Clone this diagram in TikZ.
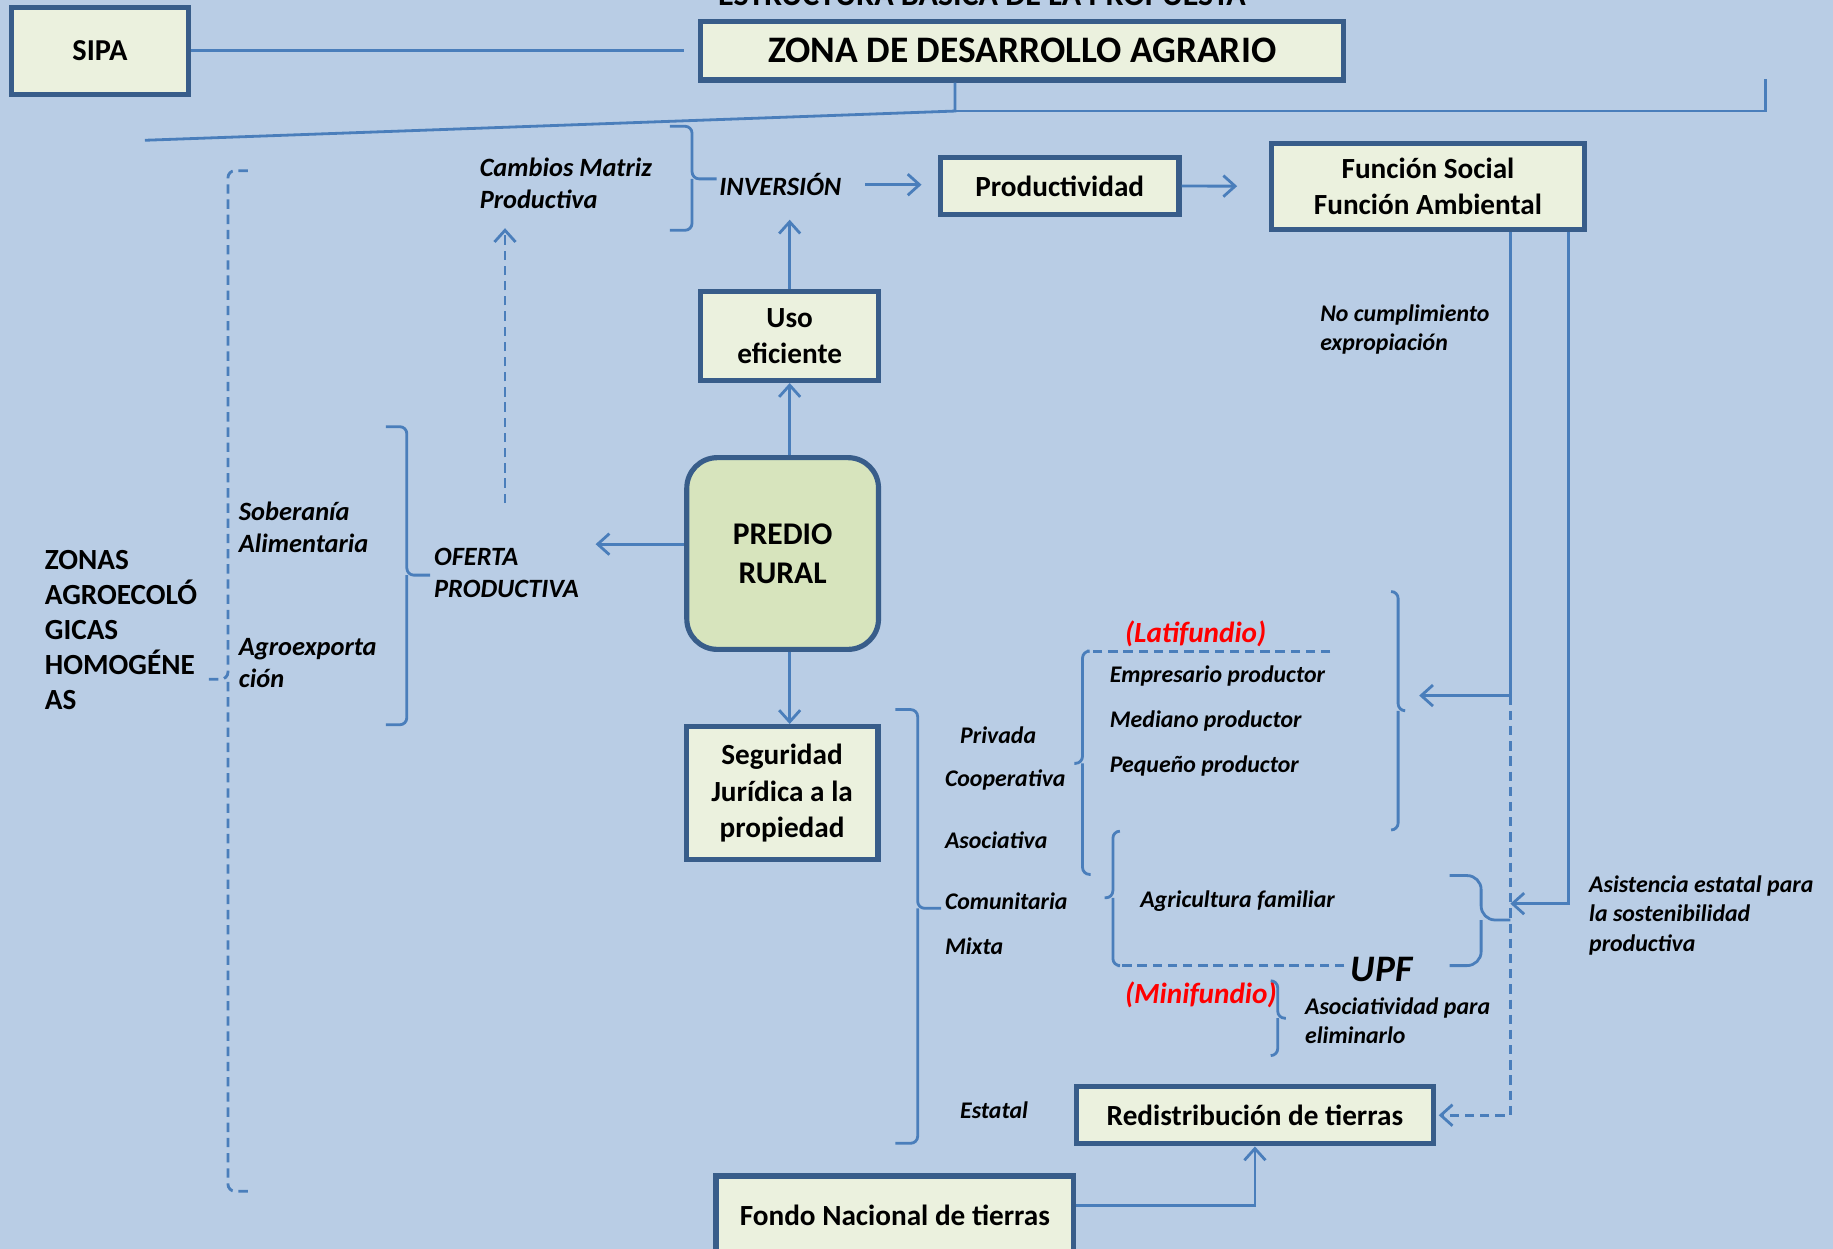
\documentclass[tikz,border=0pt]{standalone}
\usepackage{fontspec}
\setmainfont{Carlito}
\usetikzlibrary{arrows.meta}
\definecolor{fondoaz}{HTML}{B9CDE5}
\definecolor{crema}{HTML}{EBF1DE}
\definecolor{verde}{HTML}{D7E4BD}
\definecolor{bordeaz}{HTML}{385D8A}
\definecolor{lineaaz}{HTML}{4A7EBB}
\tikzset{
caja/.style={draw=bordeaz,line width=2.2pt,fill=crema,align=center,inner sep=1pt,font=\bfseries\fontsize{12.5}{15.5}\selectfont},
txt/.style={anchor=west,inner sep=0pt,align=left,font=\bfseries\itshape\fontsize{10.2}{12.5}\selectfont},
txtg/.style={txt,font=\bfseries\itshape\fontsize{11.3}{13.8}\selectfont},
rojo/.style={txt,text=red,font=\bfseries\itshape\fontsize{12.5}{15}\selectfont},
lin/.style={draw=lineaaz,line width=1.2pt},
lind/.style={lin,dash pattern=on 4pt off 2.5pt},
>={Straight Barb[length=5pt,width=9pt]}
}
\begin{document}
\begin{tikzpicture}[x=0.5pt,y=-0.5pt]
\pgfmathsetmacro{\xa}{1292}
\pgfmathsetmacro{\xb}{1342}
\fill[fondoaz](0,0)rectangle(1568,1068);
\useasboundingbox(0,0)rectangle(1568,1068);
\node[anchor=base,font=\bfseries\fontsize{13.7}{16}\selectfont](titulo)at(840,5){ESTRUCTURA BÁSICA DE LA PROPUESTA};
\node[caja,minimum width=76pt,minimum height=37pt,font=\bfseries\fontsize{13}{15.5}\selectfont](sipa)at(85.5,43.5){SIPA};
\node[caja,minimum width=275pt,minimum height=25pt,font=\bfseries\fontsize{16}{19}\selectfont](zona)at(874.5,43.5){ZONA DE DESARROLLO AGRARIO};
\node[caja,minimum width=102pt,minimum height=24.5pt](prod)at(906.5,159){Productividad};
\node[caja,minimum width=134pt,minimum height=37pt](func)at(1221.5,159.5){Función Social\\Función Ambiental};
\node[caja,minimum width=76pt,minimum height=38pt](uso)at(675.5,287.5){Uso\\eficiente};
\node[caja,fill=verde,rounded corners=13pt,minimum width=82pt,minimum height=82pt,font=\bfseries\fontsize{13.5}{16.5}\selectfont](predio)at(669.5,473.5){PREDIO\\RURAL};
\node[caja,minimum width=82pt,minimum height=57pt](seg)at(669,678.5){Seguridad\\Jurídica a la\\propiedad};
\node[caja,minimum width=153pt,minimum height=24.5pt](redis)at(1073.5,954){Redistribución de tierras};
\node[caja,minimum width=153pt,minimum height=34pt](fondo)at(765.5,1040){Fondo Nacional de tierras};
\node[txtg](cambios)at(410,157){Cambios Matriz\\Productiva};
\node[txtg](inv)at(615,158){INVERSIÓN};
\node[txtg](sober)at(204,451){Soberanía\\Alimentaria};
\node[txtg](agroex)at(204,567){Agroexporta\\ción};
\node[txtg](oferta)at(371,490){OFERTA\\PRODUCTIVA};
\node[txt,font=\bfseries\fontsize{12.5}{15}\selectfont](zonas)at(38,539){ZONAS\\AGROECOLÓ\\GICAS\\HOMOGÉNE\\AS};
\node[txt](nocump)at(1129,282){No cumplimiento\\expropiación};
\node[txt](priv)at(821,629){Privada};
\node[txt](coop)at(808,667){Cooperativa};
\node[txt](asoc)at(808,719){Asociativa};
\node[txt](comun)at(808,771){Comunitaria};
\node[txt](mixta)at(808,809){Mixta};
\node[txt](estatal)at(821,950){Estatal};
\node[rojo](lati)at(962,542){(Latifundio)};
\node[txt](empr)at(949,578){Empresario productor};
\node[txt](medi)at(949,617){Mediano productor};
\node[txt](peq)at(949,655){Pequeño productor};
\node[txt](agri)at(975,771){Agricultura familiar};
\node[txt,font=\bfseries\itshape\fontsize{16}{19}\selectfont](upf)at(1155,829){UPF};
\node[rojo](mini)at(962,851){(Minifundio)};
\node[txt](asocpara)at(1116,873){Asociatividad para\\eliminarlo};
\node[txt](asist)at(1359,783){Asistencia estatal para\\la sostenibilidad\\productiva};
\coordinate(j)at(817,95);
\coordinate(izq)at(124,120);
\coordinate(der)at(1510,68);
\coordinate(ejeO)at(432,0);
\coordinate(latt)at(1202,608);
\coordinate(p1)at(\xa,595);
\coordinate(p2)at(\xa,954);
\coordinate(p3)at(\xb,773);
\draw[lin,shorten >=6pt](sipa)--(sipa-|zona.west);
\draw[lin](zona.south-|j)--(j)--(izq);
\draw[lin](j)-|(der);
\draw[lin,->,shorten <=10pt,shorten >=7pt](inv.east)--(inv.east-|prod.west);
\draw[lin,->,shorten >=13.5pt](prod)--(func);
\draw[lin,->,shorten >=10pt](uso.north)--(uso.north|-inv.south);
\draw[lin,->](predio.north-|uso.south)--(uso.south);
\draw[lin,->](predio.south-|uso.south)--(seg.north-|uso.south);
\draw[lin,->,shorten >=7pt]([yshift=4pt]predio.west)--([yshift=4pt]predio.west-|oferta.east);
\draw[lind,->,shorten <=19pt,shorten >=8pt](oferta.north-|ejeO)--(cambios.south-|ejeO);
\draw[lin,rounded corners=3pt](573,108)-|(592,153)--(613,153);
\draw[lin,rounded corners=3pt](573,197)-|(592,153);
\draw[lind,rounded corners=3pt](212,146)-|(195,581)--(177,581);
\draw[lind,rounded corners=3pt](212,1019)-|(195,581);
\draw[lin,rounded corners=3pt](330,365)-|(348,492)--(368,492);
\draw[lin,rounded corners=3pt](330,620)-|(348,492);
\draw[lin,rounded corners=3pt](766,607)-|(785,777)--(805,777);
\draw[lin,rounded corners=3pt](766,978)-|(785,777);
\draw[lind](1138,557)--(930,557);
\draw[lin,rounded corners=3pt](930,557)-|(926,653)--(919,653);
\draw[lin,rounded corners=3pt](933,748)-|(926,653);
\draw[lind](1150,826)--(956,826);
\draw[lin,rounded corners=3pt](958,711)-|(952,768)--(945,768);
\draw[lin,rounded corners=3pt](956,826)-|(952,768);
\draw[lin,rounded corners=3pt](1190,506)-|(1196,608)--(latt);
\draw[lin,rounded corners=3pt](1190,710)-|(1196,608);
\draw[lin,rounded corners=6pt](1240,749)-|(1267,787)--(\xa,787);
\draw[lin,rounded corners=6pt](1240,826)-|(1267,787);
\draw[lin,rounded corners=3pt](1087,839)-|(1093,871)--(1100,871);
\draw[lin,rounded corners=3pt](1087,903)-|(1093,871);
\draw[lin](func.south-|p1)--(p1);
\draw[lin,->,shorten >=6pt](p1)--(p1-|latt);
\draw[lind,->,shorten >=1pt](p1)--(p2)--(redis.east);
\draw[lin,->](func.south-|p3)--(p3)--(p3-|p1);
\draw[lin,->]([yshift=4.5pt]fondo.east)-|(redis.south);
\end{tikzpicture}
\end{document}
